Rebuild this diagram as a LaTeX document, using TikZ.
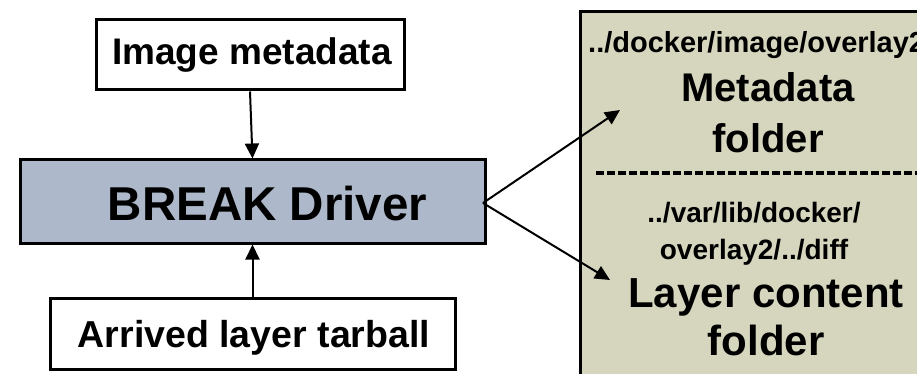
\documentclass[tikz,border=0pt]{standalone}
\usepackage{fontspec}
\setmainfont{Liberation Sans}
\usetikzlibrary{arrows.meta}
\definecolor{drvfill}{RGB}{173,185,202}
\definecolor{foldfill}{RGB}{214,214,190}
\tikzset{
  box/.style={draw=black, line width=3pt, inner sep=0pt},
  arr/.style={line width=2pt, -{Triangle[length=15pt,width=14pt]}},
  lbl/.style={font=\bfseries, inner sep=0pt, anchor=base},
}
\begin{document}
\begin{tikzpicture}[x=1pt,y=-1pt]
\useasboundingbox (0,0) rectangle (917,374);
\clip (0,0) rectangle (917,374);
% left column
\node[box, fill=white, minimum width=308pt, minimum height=70pt] (img) at (250,55) {};
\node[lbl, font=\bfseries\fontsize{37}{40}\selectfont] (imgt) at (252,65) {Image metadata};
\node[box, fill=drvfill, minimum width=465pt, minimum height=83pt] (brk) at (252.5,201.5) {};
\node[lbl, font=\bfseries\fontsize{47.5}{50}\selectfont] (brkt) at (267.5,220) {BREAK Driver};
\node[box, fill=white, minimum width=405pt, minimum height=71pt] (arrv) at (252.5,333.5) {};
\node[lbl, font=\bfseries\fontsize{37.5}{40}\selectfont] (arrvt) at (254,347) {Arrived layer tarball};
\draw[arr] (img.south) -- (brk.north);
\draw[arr] (arrv.north) -- (brk.south);
% right folder box
\draw[line width=3pt, fill=foldfill] (580,12) rectangle (980,420);
\node[lbl, font=\bfseries\fontsize{29}{31}\selectfont, anchor=base west] (p1) at (588,53) {../docker/image/overlay2};
\node[lbl, font=\bfseries\fontsize{40}{44}\selectfont] (m1) at (768,102) {Metadata};
\node[lbl, font=\bfseries\fontsize{40}{44}\selectfont] (m2) at (768,153) {folder};
\draw[line width=3pt, dash pattern=on 8pt off 3pt] (596,173) -- (917,173);
\node[lbl, font=\bfseries\fontsize{28}{30}\selectfont] (p2) at (754,222) {../var/lib/docker/};
\node[lbl, font=\bfseries\fontsize{28}{30}\selectfont] (p3) at (754,259) {overlay2/../diff};
\node[lbl, font=\bfseries\fontsize{42}{46}\selectfont] (l1) at (766,307) {Layer content};
\node[lbl, font=\bfseries\fontsize{42}{46}\selectfont] (l2) at (766,355) {folder};
% arrows to folders
\coordinate (src) at (483,203);
\coordinate (tmeta) at (620,110);
\coordinate (tlayer) at (610,280);
\draw[arr] (src) -- (tmeta);
\draw[arr] (src) -- (tlayer);
\end{tikzpicture}
\end{document}
